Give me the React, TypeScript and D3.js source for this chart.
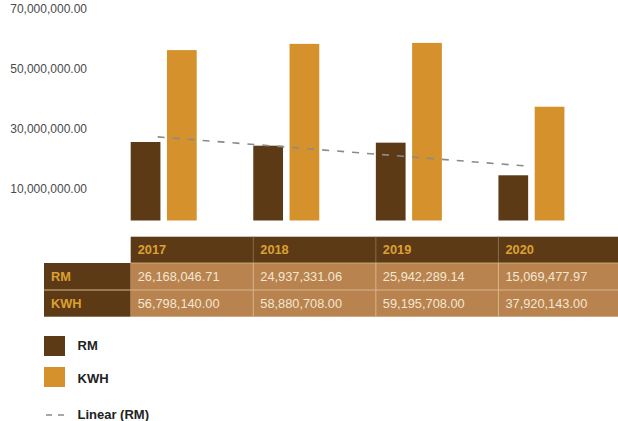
import React from "react";
import * as d3 from "d3";

const years = ["2017", "2018", "2019", "2020"];
const rmValues = [26168046.71, 24937331.06, 25942289.14, 15069477.97];
const kwhValues = [56798140.0, 58880708.0, 59195708.0, 37920143.0];
const yTicks = [10000000, 30000000, 50000000, 70000000];
const seriesNames = ["RM", "KWH"];

const W = 618;
const H = 421;
const DARK = "#5c3a15";
const GOLD = "#d4912c";
const CELL = "#b8834e";
const HEAD_TEXT = "#dca033";
const CELL_TEXT = "#f4e6d2";
const FONT = "'Liberation Sans', Arial, Helvetica, sans-serif";

export default function App() {
  const y = d3.scaleLinear().domain([0, 70000000]).range([220.5, 10.5]);
  const x = d3.scaleBand<string>().domain(years).range([130.7, 621]).padding(0);
  const inner = d3.scaleBand<string>().domain(seriesNames).range([0, 66]).paddingInner(0.18).paddingOuter(0);
  const fmt = d3.format(",.2f");

  // linear regression on RM
  const n = rmValues.length;
  const xs = rmValues.map((_, i) => i + 1);
  const mx = d3.mean(xs)!;
  const my = d3.mean(rmValues)!;
  const slope =
    d3.sum(xs.map((xi, i) => (xi - mx) * (rmValues[i] - my))) /
    d3.sum(xs.map((xi) => (xi - mx) * (xi - mx)));
  const intercept = my - slope * mx;
  const trend = years.map((yr, i) => [x(yr)! + 27, y(intercept + slope * (i + 1))] as [number, number]);
  const trendPath = d3.line()(trend)!;

  const headTop = 236.7;
  const headBot = 263;
  const row1Bot = 290;
  const row2Bot = 316.7;
  const rowHeadX = 44;
  const tableRight = 621;

  const rows = [
    { name: "RM", vals: rmValues, top: headBot, bot: row1Bot },
    { name: "KWH", vals: kwhValues, top: row1Bot, bot: row2Bot },
  ];

  return (
    <svg
      width={W}
      height={H}
      style={{ position: "absolute", left: 0, top: 0, background: "#fff" }}
      fontFamily={FONT}
    >
      {/* y axis labels */}
      {yTicks.map((t) => (
        <text key={t} x={87} y={y(t) - 1} textAnchor="end" dominantBaseline="middle" fontSize={12} fill="#4a4a4a">
          {fmt(t)}
        </text>
      ))}

      {/* bars */}
      {years.map((yr, i) => (
        <g key={yr} transform={`translate(${x(yr)},0)`}>
          <rect x={inner("RM")} y={y(rmValues[i])} width={inner.bandwidth()} height={y(0) - y(rmValues[i])} fill={DARK} />
          <rect x={inner("KWH")} y={y(kwhValues[i])} width={inner.bandwidth()} height={y(0) - y(kwhValues[i])} fill={GOLD} />
        </g>
      ))}

      {/* trend line */}
      <path d={trendPath} fill="none" stroke="#8a8a8a" strokeWidth={1.6} strokeDasharray="7,8" />

      {/* table header */}
      <rect x={x(years[0])} y={headTop} width={tableRight - x(years[0])!} height={headBot - headTop} fill={DARK} />
      {years.map((yr) => (
        <text key={yr} x={x(yr)! + 7} y={(headTop + headBot) / 2 + 1} dominantBaseline="middle" fontSize={12.8} fontWeight="bold" fill={HEAD_TEXT}>
          {yr}
        </text>
      ))}
      {years.slice(1).map((yr) => (
        <line key={yr} x1={x(yr)} x2={x(yr)} y1={headTop} y2={headBot} stroke="#8a6a48" strokeWidth={1} />
      ))}

      {/* rows */}
      {rows.map((r) => (
        <g key={r.name}>
          <rect x={rowHeadX} y={r.top} width={x(years[0])! - rowHeadX} height={r.bot - r.top} fill={DARK} />
          <text x={rowHeadX + 7} y={(r.top + r.bot) / 2 + 1} dominantBaseline="middle" fontSize={12.8} fontWeight="bold" fill={HEAD_TEXT}>
            {r.name}
          </text>
          <rect x={x(years[0])} y={r.top} width={tableRight - x(years[0])!} height={r.bot - r.top} fill={CELL} />
          {years.map((yr, i) => (
            <text key={yr} x={x(yr)! + 7} y={(r.top + r.bot) / 2 + 1} dominantBaseline="middle" fontSize={12.8} fill={CELL_TEXT}>
              {fmt(r.vals[i])}
            </text>
          ))}
        </g>
      ))}
      {/* cell grid lines */}
      <line x1={rowHeadX} x2={tableRight} y1={row1Bot} y2={row1Bot} stroke="#d9b68c" strokeWidth={1} />
      <line x1={x(years[0])} x2={tableRight} y1={headBot} y2={headBot} stroke="#d9b68c" strokeWidth={0.8} />
      {years.slice(1).map((yr) => (
        <line key={yr} x1={x(yr)} x2={x(yr)} y1={headBot} y2={row2Bot} stroke="#d9b68c" strokeWidth={1} />
      ))}

      {/* legend */}
      <rect x={44} y={336} width={21} height={20} fill={DARK} />
      <text x={77.5} y={347} dominantBaseline="middle" fontSize={13} fontWeight="bold" fill="#222">RM</text>
      <rect x={44} y={367} width={21} height={20} fill={GOLD} />
      <text x={77.5} y={380} dominantBaseline="middle" fontSize={13} fontWeight="bold" fill="#222">KWH</text>
      <line x1={46} x2={66} y1={415} y2={415} stroke="#8a8a8a" strokeWidth={1.5} strokeDasharray="6,6" />
      <text x={77.5} y={416} dominantBaseline="middle" fontSize={13} fontWeight="bold" fill="#222">Linear (RM)</text>
    </svg>
  );
}
